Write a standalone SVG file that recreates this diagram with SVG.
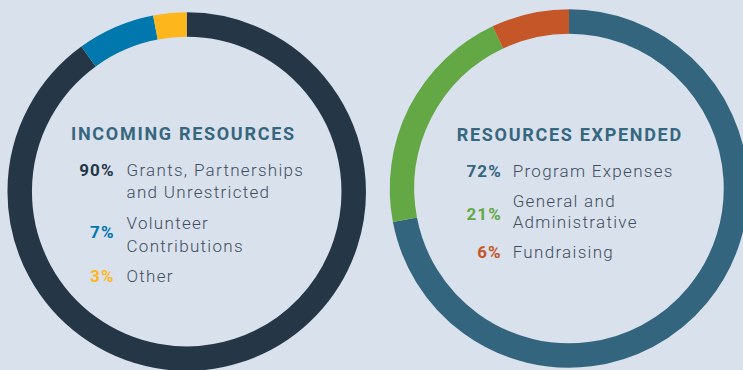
<svg xmlns="http://www.w3.org/2000/svg" width="743" height="370" viewBox="0 0 743 370">
<style>
.ring{fill:none;stroke-width:24.5}
.title{font-family:Roboto,"Liberation Sans",sans-serif;font-size:18px;font-weight:700;letter-spacing:1.7px;fill:#36677f}
.pct{font-family:Roboto,"Liberation Sans",sans-serif;font-size:17px;font-weight:700;letter-spacing:1.1px;text-anchor:end}
.lbl{font-family:Roboto,"Liberation Sans",sans-serif;font-size:17px;font-weight:300;letter-spacing:1.3px;fill:#3f4e5d}
</style>
<rect width="743" height="370" fill="#d9e1ed"/>
<g id="incoming">
<g id="incoming-ring">
<path class="ring" stroke="#253746" d="M186.7 24.6A167 167 0 1 1 88.54 56.5"/>
<path class="ring" stroke="#0077ad" d="M88.54 56.5A167 167 0 0 1 155.41 27.55"/>
<path class="ring" stroke="#fdb71c" d="M155.41 27.55A167 167 0 0 1 186.7 24.6"/>
</g>
<text class="title" x="71" y="140">INCOMING RESOURCES</text>
<text class="pct" x="114.6" y="176" fill="#253746">90%</text>
<text class="lbl" x="126.5" y="176">Grants, Partnerships</text>
<text class="lbl" x="126.5" y="197.7">and Unrestricted</text>
<text class="pct" x="114.6" y="237.5" fill="#0077ad">7%</text>
<text class="lbl" x="126.5" y="229.3">Volunteer</text>
<text class="lbl" x="126.5" y="251.7">Contributions</text>
<text class="pct" x="114.6" y="282" fill="#fdb71c">3%</text>
<text class="lbl" x="126.5" y="282">Other</text>
</g>
<g id="expended">
<g id="expended-ring">
<path class="ring" stroke="#34657f" d="M569 21.5A167 167 0 1 1 404.95 219.79"/>
<path class="ring" stroke="#63a844" d="M404.95 219.79A167 167 0 0 1 497.9 37.4"/>
<path class="ring" stroke="#c55628" d="M497.9 37.4A167 167 0 0 1 569 21.5"/>
</g>
<text class="title" x="456.7" y="141">RESOURCES EXPENDED</text>
<text class="pct" x="501.8" y="176.7" fill="#34657f">72%</text>
<text class="lbl" x="512.7" y="176.7">Program Expenses</text>
<text class="pct" x="501.8" y="220" fill="#63a844">21%</text>
<text class="lbl" x="512.7" y="206.7">General and</text>
<text class="lbl" x="512.7" y="228.3">Administrative</text>
<text class="pct" x="501.8" y="257.7" fill="#c55628">6%</text>
<text class="lbl" x="512.7" y="257.7">Fundraising</text>
</g>
</svg>
